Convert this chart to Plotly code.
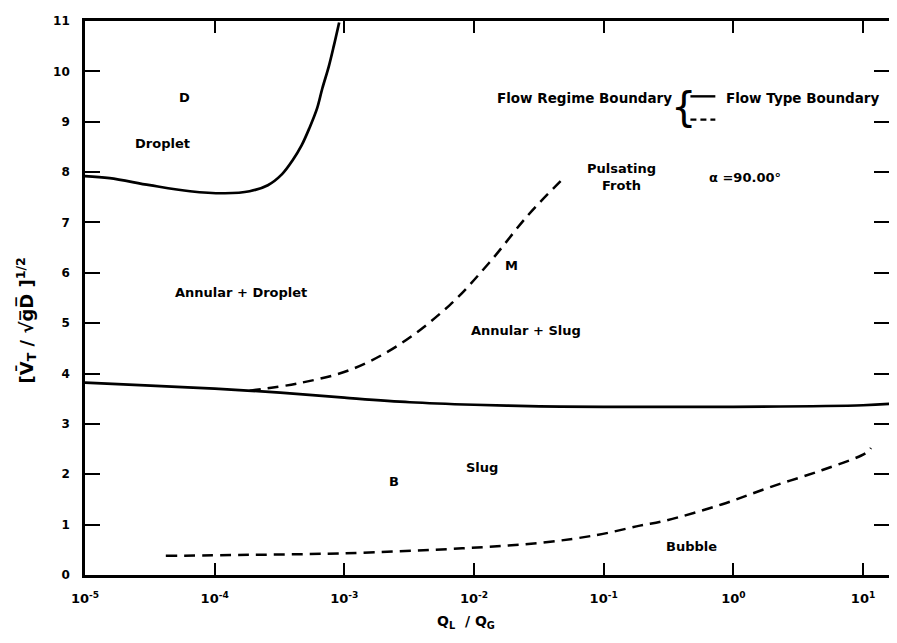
import plotly.graph_objects as go

# ---- data ----
droplet_x = [1.0e-5, 1.55e-5, 3.16e-5, 6.46e-5, 1.2e-4, 1.86e-4, 2.57e-4, 3.31e-4, 3.98e-4,
             4.68e-4, 5.37e-4, 6.17e-4, 6.76e-4, 7.59e-4, 8.32e-4, 9.12e-4]
droplet_y = [7.92, 7.88, 7.74, 7.62, 7.58, 7.62, 7.74, 7.96, 8.23,
             8.53, 8.87, 9.27, 9.66, 10.10, 10.52, 10.97]

annular_x = [1e-5, 3.2e-5, 1e-4, 3.2e-4, 1e-3, 3.2e-3, 1e-2, 3.2e-2, 1e-1, 1.0, 10.0, 16.5]
annular_y = [3.82, 3.76, 3.70, 3.62, 3.52, 3.43, 3.38, 3.35, 3.34, 3.34, 3.37, 3.40]

froth_x = [1.86e-4, 4.5e-4, 1.1e-3, 2.6e-3, 6.5e-3, 1.32e-2, 2.6e-2, 4.9e-2]
froth_y = [3.66, 3.81, 4.07, 4.56, 5.36, 6.21, 7.14, 7.88]

bubble_x = [4.2e-5, 1.86e-4, 9.5e-4, 8.1e-3, 3.3e-2, 9.1e-2, 0.19, 0.30, 0.81, 1.95, 4.8, 10.5, 11.5]
bubble_y = [0.38, 0.40, 0.43, 0.53, 0.64, 0.80, 0.98, 1.08, 1.40, 1.75, 2.08, 2.42, 2.52]

x_tickvals = [1e-5, 1e-4, 1e-3, 1e-2, 1e-1, 1, 10]
x_ticktext = ["10<sup>-5</sup>", "10<sup>-4</sup>", "10<sup>-3</sup>", "10<sup>-2</sup>",
              "10<sup>-1</sup>", "10<sup>0</sup>", "10<sup>1</sup>"]
y_tickvals = list(range(0, 12))

# region labels: (text, log10 x, y)
region_labels = [
    ("D", -4.23, 9.48),
    ("Droplet", -4.40, 8.57),
    ("Annular + Droplet", -3.80, 5.60),
    ("Pulsating<br>Froth", -0.86, 7.90),
    ("α =90.00°", 0.09, 7.90),
    ("M", -1.71, 6.15),
    ("Annular + Slug", -1.60, 4.86),
    ("Slug", -1.94, 2.14),
    ("B", -2.62, 1.85),
    ("Bubble", -0.32, 0.56),
]

FONT = "DejaVu Sans"
LBL = dict(family=FONT, size=13, color="black", weight="bold")
LEG = dict(family=FONT, size=13.5, color="black", weight="bold")
fig = go.Figure()

solid = dict(color="black", width=2.7, shape="spline")
dashed = dict(color="black", width=2.5, shape="spline", dash="11px,7px")

fig.add_trace(go.Scatter(x=droplet_x, y=droplet_y, mode="lines", line=solid, showlegend=False, hoverinfo="skip"))
fig.add_trace(go.Scatter(x=annular_x, y=annular_y, mode="lines", line=solid, showlegend=False, hoverinfo="skip"))
fig.add_trace(go.Scatter(x=froth_x, y=froth_y, mode="lines", line=dashed, showlegend=False, hoverinfo="skip"))
fig.add_trace(go.Scatter(x=bubble_x, y=bubble_y, mode="lines", line=dashed, showlegend=False, hoverinfo="skip"))

for txt, lx, yy in region_labels:
    fig.add_annotation(x=lx, y=yy, xref="x", yref="y", text=txt, showarrow=False,
                       xanchor="center", yanchor="middle", font=LBL)

# legend (drawn by hand, as in the original)
fig.add_annotation(x=0.732, y=0.861, xref="paper", yref="paper", xanchor="right", yanchor="middle",
                   text="Flow Regime Boundary", showarrow=False, font=LEG)
fig.add_annotation(x=0.745, y=0.845, xref="paper", yref="paper", xanchor="center", yanchor="middle",
                   text="{", showarrow=False,
                   font=dict(family=FONT, size=40, color="black"))
fig.add_annotation(x=0.795, y=0.861, xref="paper", yref="paper", xanchor="left", yanchor="middle",
                   text="Flow Type Boundary", showarrow=False, font=LEG)
fig.add_shape(type="line", xref="paper", yref="paper", x0=0.753, x1=0.784, y0=0.864, y1=0.864,
              line=dict(color="black", width=2.4))
fig.add_shape(type="line", xref="paper", yref="paper", x0=0.753, x1=0.784, y0=0.822, y1=0.822,
              line=dict(color="black", width=2.4, dash="6px,4px"))

# axis titles
fig.add_annotation(x=-0.073, y=0.46, xref="paper", yref="paper", textangle=-90,
                   xanchor="center", yanchor="middle",
                   text="[V̄<sub>T</sub> / √g̅D̅ ]<sup>1/2</sup>", showarrow=False,
                   font=dict(family=FONT, size=18, color="black", weight="bold"))
fig.add_annotation(x=0.474, y=-0.085, xref="paper", yref="paper",
                   xanchor="center", yanchor="middle",
                   text="Q<sub>L</sub>  / Q<sub>G</sub>", showarrow=False,
                   font=dict(family=FONT, size=14, color="black", weight="bold"))

fig.update_xaxes(type="log", range=[-5, 1.2], tickvals=x_tickvals, ticktext=x_ticktext,
                 ticks="inside", ticklen=12, tickwidth=2, tickcolor="black",
                 showline=True, linewidth=2.6, linecolor="black", mirror="ticks",
                 showgrid=False, zeroline=False, ticklabelstandoff=10, automargin=False,
                 tickfont=dict(family=FONT, size=13, color="black", weight="bold"))
fig.update_yaxes(range=[0, 11], tickvals=y_tickvals,
                 ticks="inside", ticklen=15, tickwidth=2, tickcolor="black",
                 showline=True, linewidth=2.6, linecolor="black", mirror="ticks",
                 showgrid=False, zeroline=False, ticklabelstandoff=10, automargin=False,
                 tickfont=dict(family=FONT, size=12, color="black", weight="bold"))

fig.update_layout(width=881, height=627, paper_bgcolor="white", plot_bgcolor="white",
                  margin=dict(l=77, r=0, t=13, b=60), showlegend=False)

fig.write_html("out.html")
